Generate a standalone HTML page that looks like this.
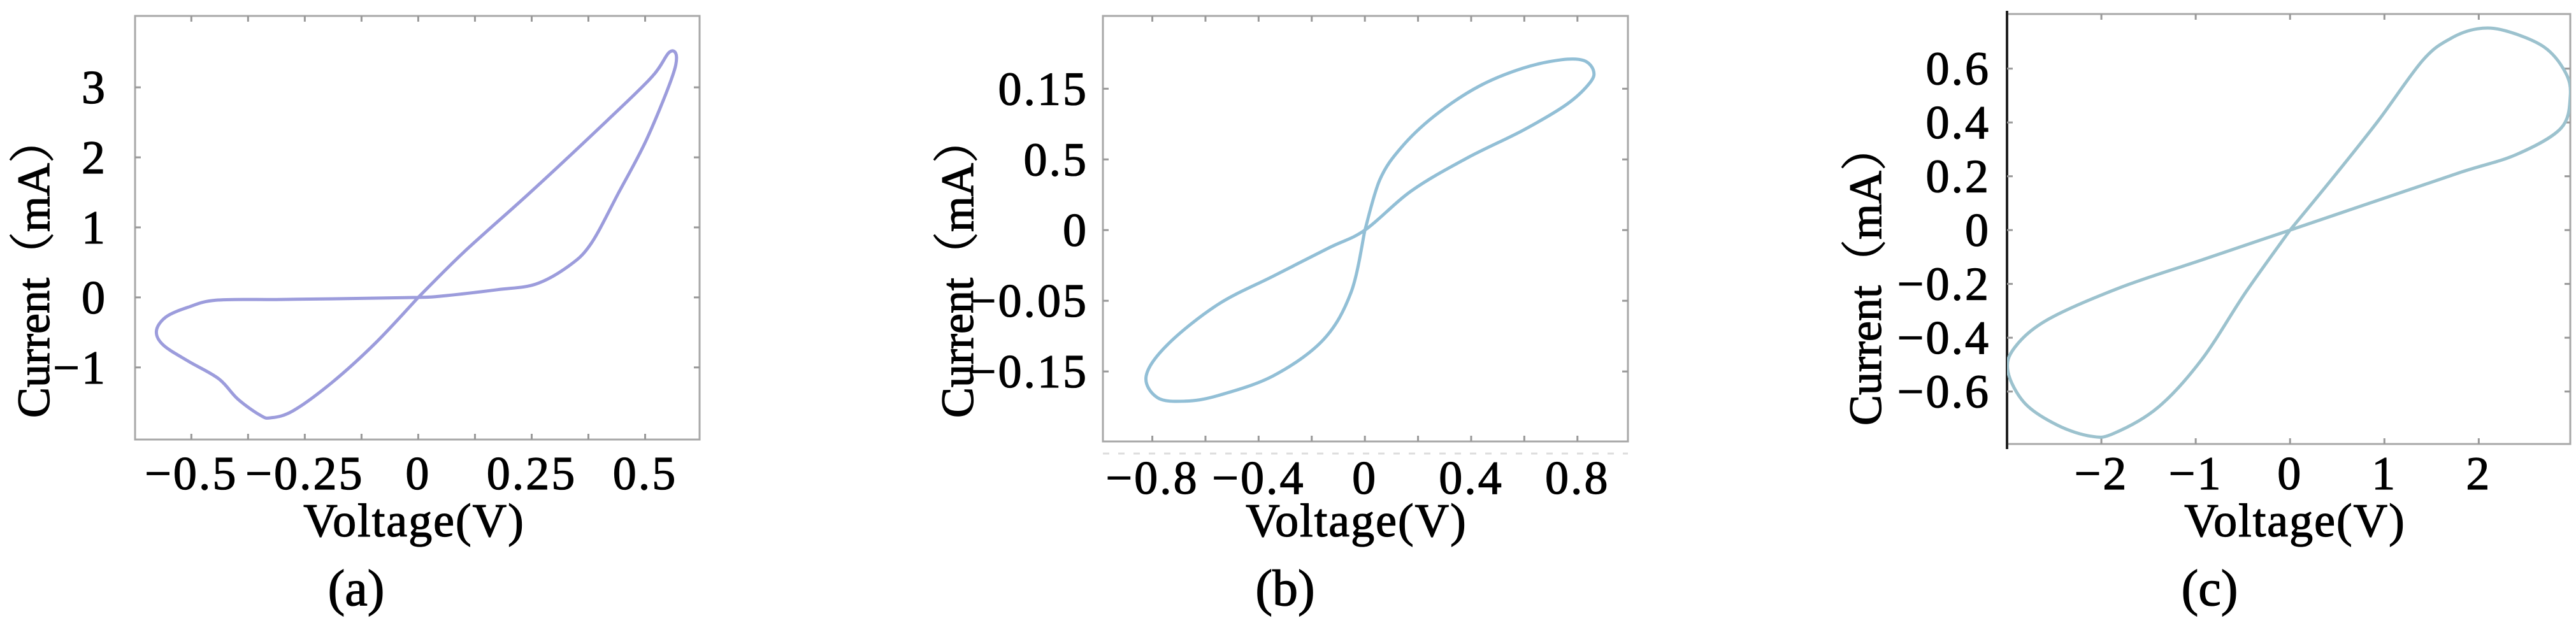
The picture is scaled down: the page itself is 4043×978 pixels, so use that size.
<!DOCTYPE html>
<html><head><meta charset="utf-8">
<style>
html,body{margin:0;padding:0;background:#fff;}
svg{display:block;}
text{font-family:"Liberation Serif","Noto Serif CJK SC",serif;fill:#000;stroke:#000;stroke-width:1.3px;}
</style></head>
<body>
<svg id="fig" width="4043" height="978" viewBox="0 0 4043 978" xmlns="http://www.w3.org/2000/svg"></svg>
<script>
// ---------- Panel (a) data ----------
const aVoltage = [0,0.101,0.247,0.417,0.515,0.553,0.569,0.557,0.502,0.442,0.381,0.332,0.259,0.174,0.052,0,-0.191,-0.313,-0.446,-0.507,-0.556,-0.577,-0.562,-0.507,-0.440,-0.398,-0.349,-0.325,-0.276,-0.191,-0.094,0];
const aCurrent = [0,0.65,1.5,2.53,3.15,3.5,3.44,3.1,2.24,1.5,0.77,0.45,0.19,0.11,0.02,0,-0.02,-0.03,-0.04,-0.14,-0.28,-0.48,-0.68,-0.91,-1.16,-1.45,-1.68,-1.72,-1.62,-1.22,-0.65,0];
const aXTicks = [-0.5,-0.25,0,0.25,0.5];
const aXTickLabels = ["−0.5","−0.25","0","0.25","0.5"];
const aYTicks = [-1,0,1,2,3];
const aYTickLabels = ["−1","0","1","2","3"];

// ---------- Panel (b) data (y in axis-tick units; labels as printed) ----------
const bVoltage = [0,0.056,0.135,0.26,0.427,0.594,0.74,0.823,0.86,0.848,0.76,0.594,0.385,0.177,0,-0.135,-0.344,-0.552,-0.74,-0.823,-0.781,-0.677,-0.552,-0.344,-0.156,-0.052,0];
const bCurrent = [0,0.71,1.16,1.61,2.03,2.29,2.41,2.40,2.26,2.09,1.78,1.41,1.02,0.56,0,-0.25,-0.65,-1.05,-1.61,-2.06,-2.37,-2.42,-2.34,-2.06,-1.55,-0.88,0];
const bXTicks = [-0.8,-0.4,0,0.4,0.8];
const bXTickLabels = ["−0.8","−0.4","0","0.4","0.8"];
const bYTicks = [-2,-1,0,1,2];
const bYTickLabels = ["−0.15","−0.05","0","0.5","0.15"];

// ---------- Panel (c) data ----------
const cVoltage = [0,0.468,0.936,1.404,1.696,1.988,2.28,2.69,2.92,2.97,2.87,2.40,1.81,0.936,0,-0.936,-1.81,-2.57,-2.92,-2.99,-2.81,-2.46,-2.11,-1.87,-1.40,-0.936,-0.468,0];
const cCurrent = [0,0.2,0.407,0.63,0.711,0.748,0.741,0.681,0.585,0.496,0.378,0.281,0.215,0.111,0,-0.111,-0.215,-0.333,-0.437,-0.526,-0.644,-0.726,-0.766,-0.756,-0.659,-0.481,-0.23,0];
const cXTicks = [-2,-1,0,1,2];
const cXTickLabels = ["−2","−1","0","1","2"];
const cYTicks = [-0.6,-0.4,-0.2,0,0.2,0.4,0.6];
const cYTickLabels = ["−0.6","−0.4","−0.2","0","0.2","0.4","0.6"];

const NS = "http://www.w3.org/2000/svg";
const svg = document.getElementById('fig');
function mk(tag, attrs, parent){
  const e = document.createElementNS(NS, tag);
  for (const k in attrs) e.setAttribute(k, attrs[k]);
  (parent||svg).appendChild(e);
  return e;
}
function smoothPath(pts){
  let d = "M" + pts[0][0].toFixed(1) + "," + pts[0][1].toFixed(1);
  for (let i=0;i<pts.length-1;i++){
    const p0 = pts[Math.max(0,i-1)], p1 = pts[i], p2 = pts[i+1], p3 = pts[Math.min(pts.length-1,i+2)];
    const c1x = p1[0]+(p2[0]-p0[0])/6, c1y = p1[1]+(p2[1]-p0[1])/6;
    const c2x = p2[0]-(p3[0]-p1[0])/6, c2y = p2[1]-(p3[1]-p1[1])/6;
    d += " C"+c1x.toFixed(1)+","+c1y.toFixed(1)+" "+c2x.toFixed(1)+","+c2y.toFixed(1)+" "+p2[0].toFixed(1)+","+p2[1].toFixed(1);
  }
  return d;
}

function panel(p){
  const g = mk('g', {});
  
  
  const sx = v => p.x0 + (v - p.xmin) / (p.xmax - p.xmin) * (p.x1 - p.x0);
  const sy = v => p.y1 - (v - p.ymin) / (p.ymax - p.ymin) * (p.y1 - p.y0);
  const clipId = 'clip-' + p.id;
  const cp = mk('clipPath', {id: clipId}, g);
  mk('rect', {x:p.x0, y:p.y0, width:p.x1-p.x0, height:p.y1-p.y0}, cp);

  const box = mk('rect', {x:p.x0, y:p.y0, width:p.x1-p.x0, height:p.y1-p.y0, fill:'none', stroke:'#a8a8a8', 'stroke-width':3}, g);
  
  
  if (p.darkLeft){
    const l = mk('line', {x1:p.x0, y1:p.y0-5, x2:p.x0, y2:p.y1+8, stroke:'#222', 'stroke-width':4}, g);
    
    
  }
  if (p.dotted){
    const l = mk('line', {x1:p.x0, y1:p.y1+19, x2:p.x1, y2:p.y1+19, stroke:'#ddd', 'stroke-width':3, 'stroke-dasharray':'10 14'}, g);
    
    
  }
  for (let v = p.xMinorStart; v <= p.xmax + 1e-9; v += p.xMinorStep){
    const X = sx(v);
    if (X < p.x0 + 2 || X > p.x1 - 2) continue;
    mk('line', {x1:X, y1:p.y1, x2:X, y2:p.y1-9, stroke:'#999', 'stroke-width':3}, g);
    mk('line', {x1:X, y1:p.y0, x2:X, y2:p.y0+9, stroke:'#999', 'stroke-width':3}, g);
  }
  p.xt.forEach((v,i) => {
    const t = mk('text', {x:sx(v), y:p.xLabelY, 'font-size':74, 'letter-spacing':3, 'text-anchor':'middle'}, g);
    t.textContent = p.xl[i];
    
    
  });
  p.yt.forEach((v,i) => {
    const Y = sy(v);
    mk('line', {x1:p.x0, y1:Y, x2:p.x0+9, y2:Y, stroke:'#999', 'stroke-width':3}, g);
    mk('line', {x1:p.x1, y1:Y, x2:p.x1-9, y2:Y, stroke:'#999', 'stroke-width':3}, g);
    const t = mk('text', {x:p.yLabelX, y:Y+25, 'font-size':74, 'letter-spacing':3, 'text-anchor':'end'}, g);
    t.textContent = p.yl[i];
    
    
  });
  const pts = p.vx.map((v,i) => [sx(v), sy(p.vy[i])]);
  const path = mk('path', {d:smoothPath(pts), fill:'none', stroke:p.color, 'stroke-width':5, 'clip-path':'url(#'+clipId+')'}, g);
  
  

  const xt = mk('text', {x:p.xTitleX, y:842, 'font-size':74, 'letter-spacing':2, 'text-anchor':'middle'}, g);
  xt.textContent = 'Voltage(V)';
  
  
  const yt = mk('text', {x:0, y:0, 'font-size':72, 'text-anchor':'middle', transform:'translate('+(p.yTitleX+25)+','+p.yTitleY+') rotate(-90)'}, g);
  yt.textContent = 'Current（mA）';
  
  
  const cap = mk('text', {x:p.capX, y:950, 'font-size':80, 'text-anchor':'middle'}, g);
  cap.textContent = '(' + p.id + ')';
  
  
}

panel({id:'a', x0:212, x1:1098, y0:25, y1:690, xmin:-0.624, xmax:0.62, ymin:-2.03, ymax:4.02,
  xt:aXTicks, xl:aXTickLabels, yt:aYTicks, yl:aYTickLabels, vx:aVoltage, vy:aCurrent,
  xMinorStart:-0.5, xMinorStep:0.125, xLabelY:768, yLabelX:168, xTitleX:650, yTitleX:52, yTitleY:420,
  capX:559, color:'#9c9cdc'});
panel({id:'b', x0:1731, x1:2555, y0:25, y1:693, xmin:-0.986, xmax:0.99, ymin:-2.99, ymax:3.03,
  xt:bXTicks, xl:bXTickLabels, yt:bYTicks, yl:bYTickLabels, vx:bVoltage, vy:bCurrent,
  xMinorStart:-0.8, xMinorStep:0.2, xLabelY:775, yLabelX:1708, xTitleX:2129, yTitleX:1502, yTitleY:420,
  capX:2017, color:'#92bfd6', dotted:true});
panel({id:'c', x0:3150, x1:4034, y0:22, y1:697, xmin:-3.0, xmax:2.97, ymin:-0.795, ymax:0.803,
  xt:cXTicks, xl:cXTickLabels, yt:cYTicks, yl:cYTickLabels, vx:cVoltage, vy:cCurrent,
  xMinorStart:-2, xMinorStep:1, xLabelY:768, yLabelX:3124, xTitleX:3602, yTitleX:2927, yTitleY:432,
  capX:3468, color:'#9cc2ce', darkLeft:true});
</script>
</body></html>
